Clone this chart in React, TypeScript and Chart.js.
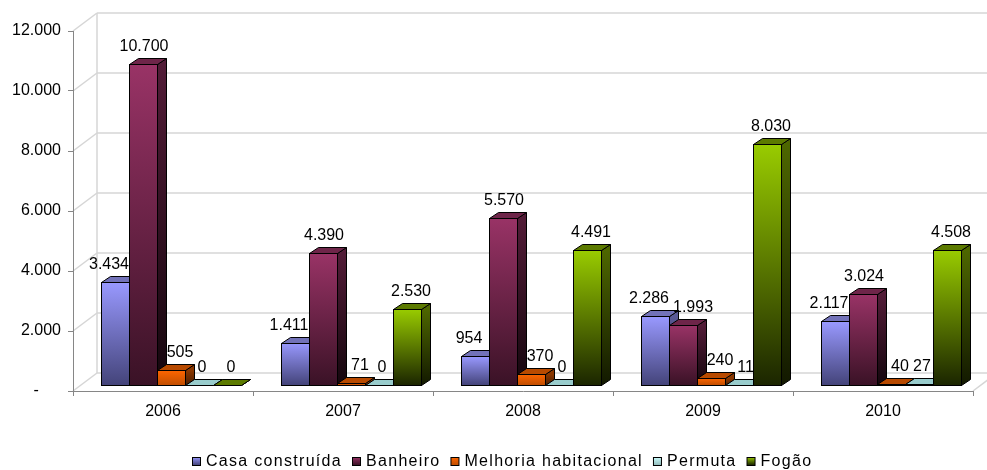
import React, { useEffect, useRef } from 'react';
import { Chart, registerables } from 'chart.js';

Chart.register(...registerables);

const categories = ['2006', '2007', '2008', '2009', '2010'];
const seriesNames = ['Casa construída', 'Banheiro', 'Melhoria habitacional', 'Permuta', 'Fogão'];
const casaConstruida = [3434, 1411, 954, 2286, 2117];
const banheiro = [10700, 4390, 5570, 1993, 3024];
const melhoriaHabitacional = [505, 71, 370, 240, 40];
const permuta = [0, 0, 0, 11, 27];
const fogao = [0, 2530, 4491, 8030, 4508];
const yTickValues = [0, 2000, 4000, 6000, 8000, 10000, 12000];

const seriesValues = [casaConstruida, banheiro, melhoriaHabitacional, permuta, fogao];

const palettes = [
  { front: '#9999ff', frontDark: '#44447a', top: '#7272b8', side: '#5a5a96', sideDark: '#222240', labelDx: -6 },
  { front: '#993366', frontDark: '#3a1226', top: '#6e2549', side: '#521c37', sideDark: '#14060d', labelDx: 1 },
  { front: '#ff6600', frontDark: '#c24e00', top: '#b84a00', side: '#8a3700', sideDark: '#4a1d00', labelDx: 9 },
  { front: '#ccffff', frontDark: '#93bcbc', top: '#99cccc', side: '#6f9494', sideDark: '#3f5555', labelDx: 3 },
  { front: '#99cc00', frontDark: '#1b2500', top: '#5c7a00', side: '#4d6600', sideDark: '#121800', labelDx: 4 },
];

const FONT = '"Liberation Sans", Arial, sans-serif';
const AXIS = '#868686';
const GRID = '#d6d6d6';
const DX = 8, DY = -6;     // bar plane offset from front plane
const BDX = 9, BDY = -6;   // bar depth
const WDX = 24, WDY = -18; // wall depth

const fmt = (v: number) => String(Math.round(v)).replace(/\B(?=(\d{3})+(?!\d))/g, '.');

const threeDPlugin = {
  id: 'threeD',
  beforeDraw(chart: any) {
    const { ctx, chartArea, scales } = chart;
    const y = scales.y;
    ctx.save();
    ctx.fillStyle = '#ffffff';
    ctx.fillRect(0, 0, chart.width, chart.height);
    ctx.strokeStyle = GRID;
    ctx.lineWidth = 1.5;
    const L = chartArea.left;
    for (const v of yTickValues) {
      const yf = y.getPixelForValue(v);
      ctx.beginPath();
      ctx.moveTo(L + WDX, yf + WDY);
      ctx.lineTo(chart.width, yf + WDY);
      ctx.stroke();
      ctx.beginPath();
      ctx.moveTo(L, yf);
      ctx.lineTo(L + WDX, yf + WDY);
      ctx.stroke();
    }
    ctx.beginPath();
    ctx.moveTo(L + WDX, chartArea.top + WDY);
    ctx.lineTo(L + WDX, chartArea.bottom + WDY);
    ctx.stroke();
    ctx.beginPath();
    ctx.moveTo(chartArea.right, chartArea.bottom);
    ctx.lineTo(chartArea.right + WDX, chartArea.bottom + WDY);
    ctx.stroke();
    ctx.restore();
  },
  beforeDatasetsDraw(chart: any) {
    chart.ctx.save();
    chart.ctx.translate(DX, DY);
  },
  afterDatasetsDraw(chart: any) {
    const ctx = chart.ctx;
    const metas = seriesValues.map((_, d) => chart.getDatasetMeta(d));
    ctx.lineWidth = 1;
    ctx.strokeStyle = '#000000';
    ctx.lineJoin = 'miter';
    for (let i = 0; i < categories.length; i++) {
      for (let d = 0; d < metas.length; d++) {
        const el = metas[d].data[i];
        if (!el) continue;
        const p = el.getProps(['x', 'y', 'base', 'width'], true);
        const pal = palettes[d];
        const l = Math.round(p.x - p.width / 2) + 0.5;
        const r = Math.round(p.x + p.width / 2) + 0.5;
        const t = Math.round(p.y) + 0.5;
        const b = Math.round(p.base) + 0.5;
        let sideFill: any = pal.side;
        if (b - t > 1) {
          const g = ctx.createLinearGradient(0, t, 0, b);
          g.addColorStop(0, pal.side);
          g.addColorStop(1, pal.sideDark);
          sideFill = g;
        }
        ctx.beginPath();
        ctx.moveTo(r, t);
        ctx.lineTo(r + BDX, t + BDY);
        ctx.lineTo(r + BDX, b + BDY);
        ctx.lineTo(r, b);
        ctx.closePath();
        ctx.fillStyle = sideFill;
        ctx.fill();
        ctx.stroke();
        ctx.beginPath();
        ctx.moveTo(l, t);
        ctx.lineTo(l + BDX, t + BDY);
        ctx.lineTo(r + BDX, t + BDY);
        ctx.lineTo(r, t);
        ctx.closePath();
        ctx.fillStyle = pal.top;
        ctx.fill();
        ctx.stroke();
        if (b - t > 0) {
          ctx.fillStyle = el.options.backgroundColor;
          ctx.fillRect(l, t, r - l, b - t);
          ctx.strokeRect(l, t, r - l, b - t);
        }
      }
    }
    // value labels (shifted right when they would collide with the previous label)
    ctx.fillStyle = '#000000';
    ctx.font = '16px ' + FONT;
    ctx.textAlign = 'left';
    ctx.textBaseline = 'alphabetic';
    for (let i = 0; i < categories.length; i++) {
      let prev: any = null;
      for (let d = 0; d < metas.length; d++) {
        const el = metas[d].data[i];
        if (!el) continue;
        const p = el.getProps(['x', 'y'], true);
        const txt = fmt(seriesValues[d][i]);
        const w = ctx.measureText(txt).width;
        let x0 = p.x + palettes[d].labelDx - w / 2;
        const yb = p.y - 13;
        if (prev && Math.abs(prev.yb - yb) < 16 && x0 < prev.x1 + 4) {
          x0 = prev.x1 + 4;
        }
        ctx.fillText(txt, x0, yb);
        prev = { x1: x0 + w, yb };
      }
    }
    ctx.restore();
  },
  afterDraw(chart: any) {
    const ctx = chart.ctx;
    ctx.save();
    ctx.font = '16px ' + FONT;
    (ctx as any).letterSpacing = '1.3px';
    ctx.textBaseline = 'middle';
    ctx.textAlign = 'left';
    const box = 8, gapBT = 6, gapItem = 10;
    const widths = seriesNames.map((n) => box + gapBT + ctx.measureText(n).width);
    const total = widths.reduce((a, b) => a + b, 0) + gapItem * (widths.length - 1);
    let x = Math.round(502 - total / 2);
    const cy = 461;
    seriesNames.forEach((n, d) => {
      const pal = palettes[d];
      const g = ctx.createLinearGradient(0, cy - 4, 0, cy + 4);
      g.addColorStop(0, pal.front);
      g.addColorStop(1, pal.frontDark);
      ctx.fillStyle = g;
      ctx.fillRect(x + 0.5, cy - 4 + 0.5, box, box);
      ctx.strokeStyle = '#000000';
      ctx.lineWidth = 1;
      ctx.strokeRect(x + 0.5, cy - 4 + 0.5, box, box);
      ctx.fillStyle = '#000000';
      ctx.fillText(n, x + box + gapBT, cy + 1);
      x += widths[d] + gapItem;
    });
    ctx.restore();
  },
};

function makeFront(d: number) {
  const pal = palettes[d];
  return (c: any) => {
    const chart = c.chart;
    const ys = chart.scales && chart.scales.y;
    if (c.type !== 'data' || !ys || !chart.chartArea) return pal.front;
    const top = ys.getPixelForValue(c.raw);
    const base = ys.getPixelForValue(0);
    if (base - top < 1) return pal.front;
    const g = chart.ctx.createLinearGradient(0, top, 0, base);
    g.addColorStop(0, pal.front);
    g.addColorStop(1, pal.frontDark);
    return g;
  };
}

export default function App() {
  const ref = useRef<HTMLCanvasElement | null>(null);
  useEffect(() => {
    if (!ref.current) return;
    Chart.defaults.font.family = FONT;
    Chart.defaults.color = '#000000';
    const chart = new Chart(ref.current, {
      type: 'bar',
      data: {
        labels: categories,
        datasets: seriesNames.map((name, d) => ({
          label: name,
          data: seriesValues[d],
          backgroundColor: makeFront(d),
          borderWidth: 0,
          categoryPercentage: 140 / 180,
          barPercentage: 1,
          clip: false as any,
        })),
      },
      options: {
        responsive: false,
        animation: false,
        devicePixelRatio: 1,
        layout: { padding: { top: 31, right: 14, bottom: 39, left: 0 } },
        plugins: { legend: { display: false }, tooltip: { enabled: false } },
        scales: {
          x: {
            offset: true,
            grid: { offset: true, drawOnChartArea: false, drawTicks: true, tickLength: 5, color: AXIS },
            border: { display: true, color: AXIS, width: 1 },
            ticks: { color: '#000000', font: { size: 16 }, padding: 6, maxRotation: 0, autoSkip: false },
            afterFit: (s: any) => { s.height = 40; },
          },
          y: {
            min: 0,
            max: 12000,
            grid: { drawOnChartArea: false, drawTicks: true, tickLength: 5, color: AXIS },
            border: { display: true, color: AXIS, width: 1 },
            ticks: {
              color: '#000000',
              font: { size: 16 },
              padding: 7,
              callback: (v: any) => (Number(v) === 0 ? '-     ' : fmt(Number(v))),
            },
            afterBuildTicks: (s: any) => { s.ticks = yTickValues.map((v) => ({ value: v })); },
            afterFit: (s: any) => { s.width = 73; },
          },
        },
      } as any,
      plugins: [threeDPlugin as any],
    });
    return () => chart.destroy();
  }, []);
  return (
    <div style={{ position: 'fixed', left: 0, top: 0, width: 987, height: 470, background: '#fff' }}>
      <canvas ref={ref} width={987} height={470} style={{ display: 'block', width: 987, height: 470 }} />
    </div>
  );
}
